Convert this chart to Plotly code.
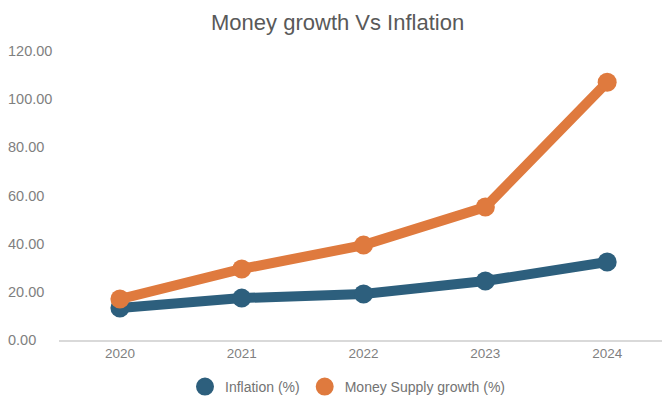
import plotly.graph_objects as go

years = ["2020", "2021", "2022", "2023", "2024"]
inflation = [13.3, 17.4, 19.1, 24.5, 32.4]
money_supply = [17.0, 29.5, 39.4, 55.2, 107.0]
y_ticks = [0, 20, 40, 60, 80, 100, 120]
y_tick_labels = [f"{v:.2f}" for v in y_ticks]

BLUE = "#2d5f7d"
ORANGE = "#df7a3e"
TITLE_GREY = "#595959"
TICK_GREY = "#7f7f7f"
FONT = "Liberation Sans, Arial, sans-serif"

series = [
    ("Inflation (%)", inflation, BLUE),
    ("Money Supply growth (%)", money_supply, ORANGE),
]

fig = go.Figure()
for name, vals, color in series:
    fig.add_trace(go.Scatter(
        x=years, y=vals, mode="lines+markers", name=name,
        line=dict(color=color, width=10),
        marker=dict(color=color, size=19),
        showlegend=False, cliponaxis=False,
    ))
# legend entries show the marker only
for name, vals, color in series:
    fig.add_trace(go.Scatter(
        x=[None], y=[None], mode="markers", name=name,
        marker=dict(color=color, size=16, line=dict(color=color, width=2)),
    ))

# left-aligned y tick labels
plot_left = 59
plot_width = 662 - plot_left
for v, lab in zip(y_ticks, y_tick_labels):
    fig.add_annotation(
        x=(6 - plot_left) / plot_width, xref="paper", xanchor="left",
        y=v, yref="y", yanchor="middle", text=lab, showarrow=False,
        font=dict(family=FONT, size=14.5, color=TICK_GREY),
    )

fig.update_layout(
    width=662, height=398,
    margin=dict(l=plot_left, r=0, t=51, b=58),
    paper_bgcolor="white", plot_bgcolor="white",
    font=dict(family=FONT, size=13, color=TICK_GREY),
    title=dict(text="Money growth Vs Inflation", x=0.51, xanchor="center",
               y=1 - 22 / 398, yanchor="middle", yref="container",
               font=dict(family=FONT, size=22, color=TITLE_GREY)),
    xaxis=dict(type="category", range=[-0.5, 4.45], showgrid=False,
               showline=True, linecolor="#d9d9d9", linewidth=1.5,
               ticks="", tickfont=dict(size=13.5, color=TICK_GREY)),
    yaxis=dict(range=[0, 120], tickvals=y_ticks, showticklabels=False,
               showgrid=False, zeroline=False),
    legend=dict(orientation="h", x=(185 - plot_left) / plot_width,
                xanchor="left", y=11 / 398, yanchor="middle",
                yref="container", itemsizing="trace",
                font=dict(family=FONT, size=14, color="#737373"),
                itemwidth=30, tracegroupgap=0),
    showlegend=True,
)

fig.write_html("out.html")
